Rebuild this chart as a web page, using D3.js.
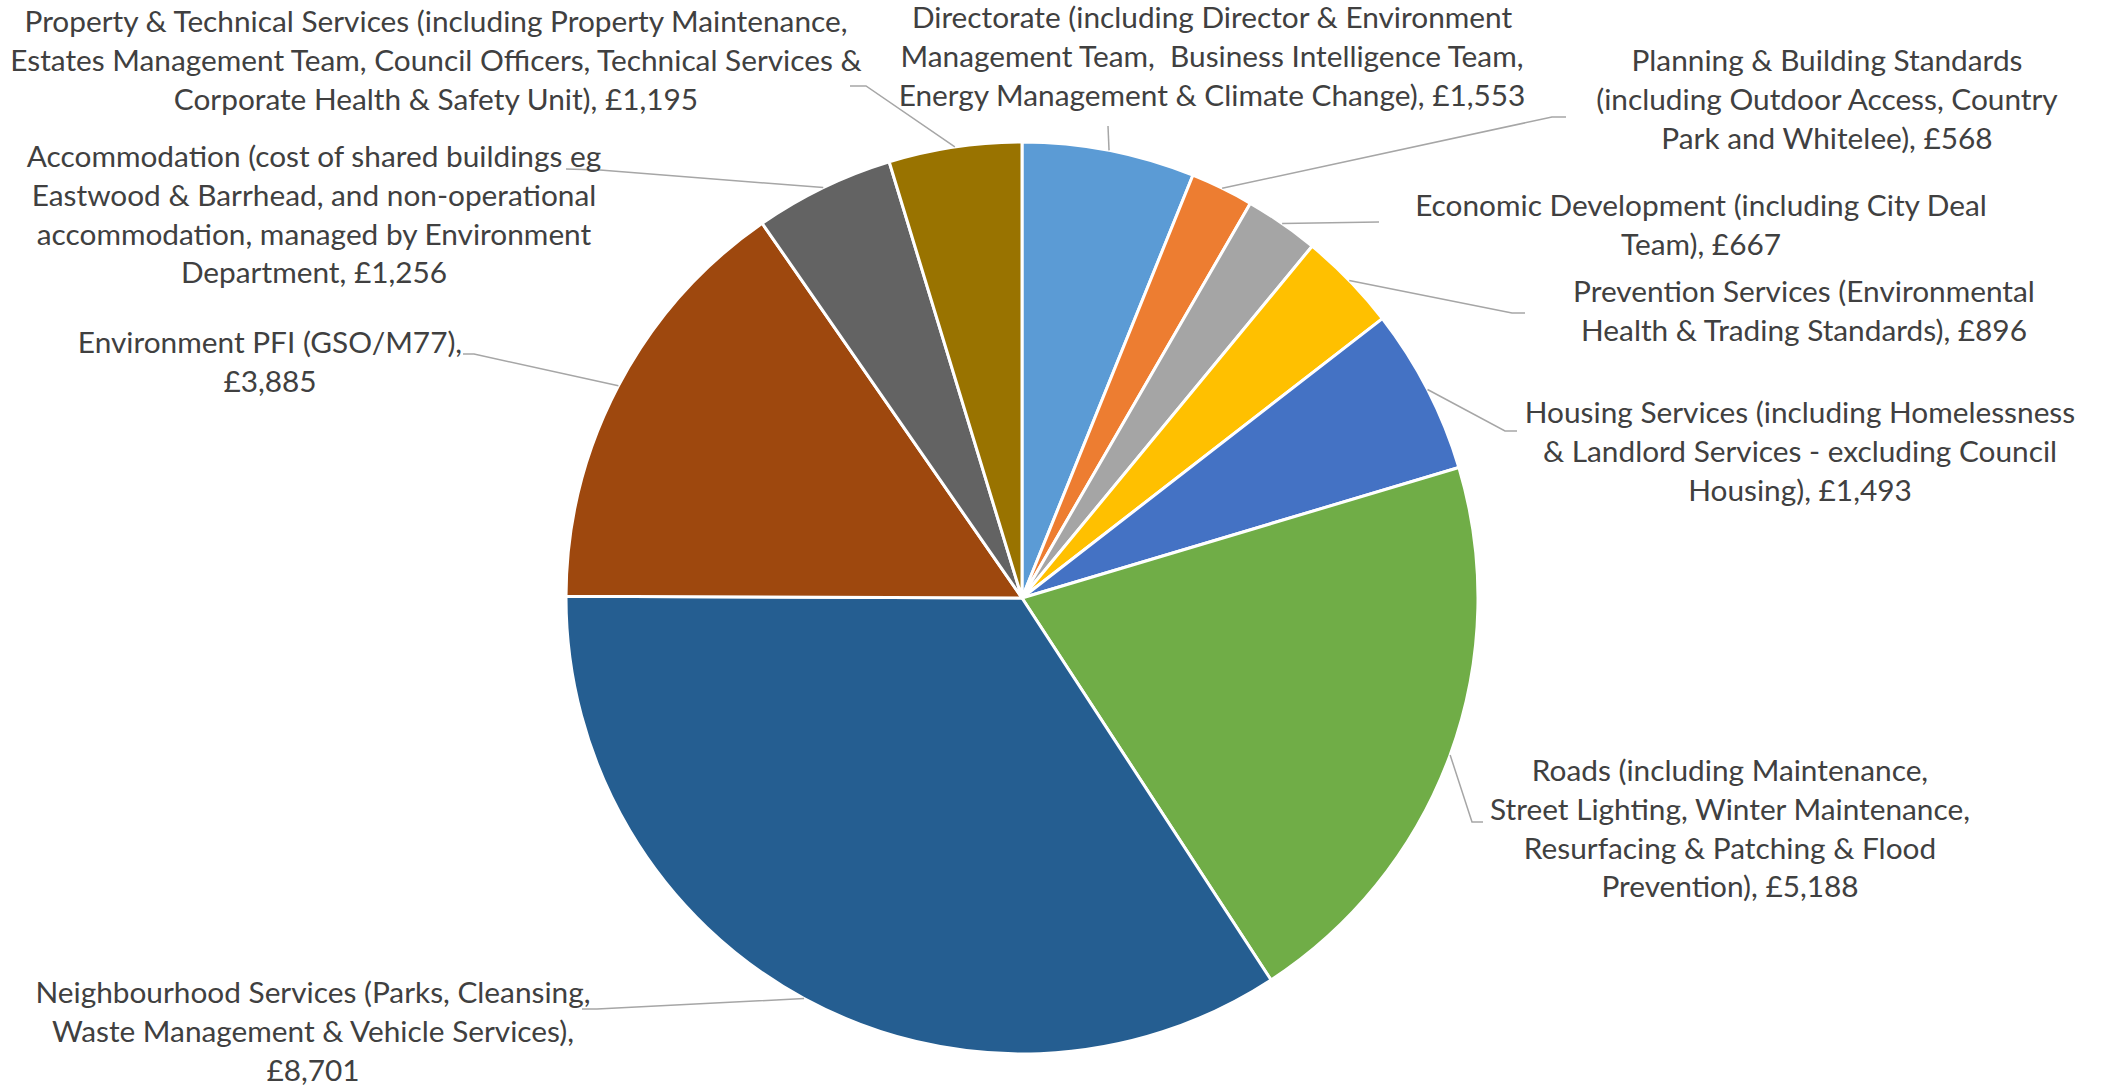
<!DOCTYPE html>
<html><head><meta charset="utf-8">
<script src="https://cdn.jsdelivr.net/npm/d3@7"></script>
<style>html,body{margin:0;padding:0;background:#fff;overflow:hidden}</style>
</head><body>
<svg id="chart" width="2103" height="1086"></svg>
<script>
// ---- data ----
const categories = [
  "Directorate", "Planning & Building Standards", "Economic Development",
  "Prevention Services", "Housing Services", "Roads", "Neighbourhood Services",
  "Environment PFI", "Accommodation", "Property & Technical Services"
];
const values = [1553, 568, 667, 896, 1493, 5188, 8701, 3885, 1256, 1195];
const colors = ["#5B9BD5", "#ED7D31", "#A5A5A5", "#FFC000", "#4472C4",
                "#70AD47", "#255E91", "#9E480E", "#636363", "#997300"];
const labelLines = [
  ["Directorate (including Director & Environment", "Management Team,  Business Intelligence Team,", "Energy Management & Climate Change)"],
  ["Planning & Building Standards", "(including Outdoor Access, Country", "Park and Whitelee)"],
  ["Economic Development (including City Deal", "Team)"],
  ["Prevention Services (Environmental", "Health & Trading Standards)"],
  ["Housing Services (including Homelessness", "& Landlord Services - excluding Council", "Housing)"],
  ["Roads (including Maintenance,", "Street Lighting, Winter Maintenance,", "Resurfacing & Patching & Flood", "Prevention)"],
  ["Neighbourhood Services (Parks, Cleansing,", "Waste Management & Vehicle Services)"],
  ["Environment PFI (GSO/M77)"],
  ["Accommodation (cost of shared buildings eg", "Eastwood & Barrhead, and non-operational", "accommodation, managed by Environment", "Department"],
  ["Property & Technical Services (including Property Maintenance,", "Estates Management Team, Council Officers, Technical Services &", "Corporate Health & Safety Unit)"]
];
const valueOnOwnLine = [false, false, false, false, false, false, true, true, false, false];

// ---- layout ----
const W = 2103, H = 1086;
const cx = 1022, cy = 598, R = 456;
const fontSize = 29.8, lineH = 38.8;
// label centre x, first baseline y
const labelPos = [
  [1212, 28], [1827, 71], [1701, 216], [1804, 302], [1800, 423],
  [1730, 781], [313, 1003], [270, 353], [314, 167], [436, 32]
];
// label-side leader points (knee segment)
const leaderKnee = [
  [[1108, 126]],
  [[1566, 117], [1552, 117]],
  [[1379, 222]],
  [[1525, 313], [1512, 313]],
  [[1517, 431], [1505, 431]],
  [[1483, 822], [1472, 822]],
  [[582, 1009], [597, 1009]],
  [[463, 354], [474, 354]],
  [[566, 169], [600, 170]],
  [[850, 86], [866, 86]]
];

const svg = d3.select("#chart");
svg.append("rect").attr("width", W).attr("height", H).attr("fill", "#fff");

const pie = d3.pie().sort(null).value(d => d)(values);
const arc = d3.arc().innerRadius(0).outerRadius(R);

const g = svg.append("g").attr("transform", `translate(${cx},${cy})`);
g.selectAll("path").data(pie).join("path")
  .attr("d", arc)
  .attr("fill", (d, i) => colors[i])
  .attr("stroke", "#fff")
  .attr("stroke-width", 3)
  .attr("stroke-linejoin", "round");

// leader lines
const fmt = d3.format(",");
const line = d3.line();
pie.forEach((d, i) => {
  const mid = (d.startAngle + d.endAngle) / 2;
  const edge = [cx + R * Math.sin(mid), cy - R * Math.cos(mid)];
  const pts = leaderKnee[i].concat([edge]);
  svg.append("path").attr("d", line(pts))
    .attr("fill", "none").attr("stroke", "#A6A6A6").attr("stroke-width", 1.5);
});

// labels
const labels = svg.append("g")
  .attr("font-family", "Lato, 'Open Sans', sans-serif")
  .attr("font-size", fontSize)
  .attr("fill", "#404040")
  .attr("text-anchor", "middle");
labelLines.forEach((ls, i) => {
  const v = "£" + fmt(values[i]);
  let lines = ls.slice();
  if (valueOnOwnLine[i]) {
    lines[lines.length - 1] += ",";
    lines.push(v);
  } else {
    lines[lines.length - 1] += ", " + v;
  }
  const t = labels.append("text").attr("xml:space", "preserve").style("white-space", "pre");
  lines.forEach((l, k) => {
    t.append("tspan").attr("x", labelPos[i][0]).attr("y", labelPos[i][1] + k * lineH).text(l);
  });
});
</script>
</body></html>
